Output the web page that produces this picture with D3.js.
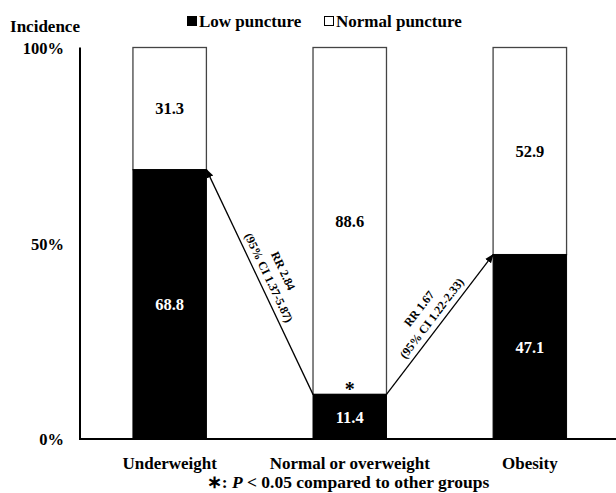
<!DOCTYPE html>
<html><head><meta charset="utf-8">
<script src="https://cdn.jsdelivr.net/npm/d3@7"></script>
<style>body{margin:0;background:#fff}svg{display:block}text{font-family:"Liberation Serif","Times New Roman",serif;font-weight:bold}</style>
</head><body>
<svg id="c" width="616" height="493"></svg>
<script>
const categories = ["Underweight", "Normal or overweight", "Obesity"];
const lowPuncture = [68.8, 11.4, 47.1];
const normalPuncture = [31.3, 88.6, 52.9];
const yTicks = [0, 50, 100];
const yTickLabels = ["0%", "50%", "100%"];
const seriesNames = ["Low puncture", "Normal puncture"];
const rrLabels = [["RR 2.84", "(95% CI 1.37-5.87)"], ["RR 1.67", "(95% CI 1.22-2.33)"]];
const starCategory = "Normal or overweight";
const footnote = " < 0.05 compared to other groups";

const svg = d3.select("#c");
const x = d3.scaleBand().domain(categories).range([80, 619.5]).paddingInner(0.592).paddingOuter(0.294);
const y = d3.scaleLinear().domain([0, 100]).range([439, 47.5]);

// bars
const g = svg.append("g");
categories.forEach((c, i) => {
  const x0 = x(c), w = x.bandwidth();
  g.append("rect").attr("x", x0).attr("y", y(100)).attr("width", w)
    .attr("height", y(lowPuncture[i]) - y(100))
    .attr("fill", "#fff").attr("stroke", "#444").attr("stroke-width", 1.3);
  g.append("rect").attr("x", x0).attr("y", y(lowPuncture[i])).attr("width", w)
    .attr("height", y(0) - y(lowPuncture[i]))
    .attr("fill", "#000").attr("stroke", "#000").attr("stroke-width", 1);
});

// value labels (centered in segments)
categories.forEach((c, i) => {
  const cx = x(c) + x.bandwidth() / 2;
  g.append("text").attr("x", cx).attr("y", y(lowPuncture[i] / 2) + 6)
    .attr("text-anchor", "middle").attr("font-size", 16.5).attr("fill", "#fff")
    .text(lowPuncture[i].toFixed(1));
  g.append("text").attr("x", cx).attr("y", y(lowPuncture[i] + normalPuncture[i] / 2) + 6)
    .attr("text-anchor", "middle").attr("font-size", 16.5).attr("fill", "#000")
    .text(normalPuncture[i].toFixed(1));
});

// star
svg.append("text").attr("x", x(starCategory) + x.bandwidth() / 2)
  .attr("y", y(lowPuncture[1]) + 2).attr("text-anchor", "middle")
  .attr("font-size", 20).text("*");

// axes
const yAxis = d3.axisLeft(y).tickValues(yTicks).tickSize(0).tickFormat((d, i) => yTickLabels[i]);
const ya = svg.append("g").attr("transform", "translate(80,0)").call(yAxis);
ya.select(".domain").attr("stroke", "#000").attr("stroke-width", 2).attr("d", `M0,${y(100)}V${y(0)}`);
ya.selectAll("text").attr("x", -16).attr("dy", "0.35em").attr("font-size", 16.5).attr("fill", "#000")
  .attr("font-family", "Liberation Serif").attr("font-weight", "bold");

const xAxis = d3.axisBottom(x).tickSize(0);
const xa = svg.append("g").attr("transform", `translate(0,${y(0)})`).call(xAxis);
xa.select(".domain").attr("stroke", "#000").attr("stroke-width", 2).attr("d", `M79,0H616`);
xa.selectAll("text").attr("y", 24).attr("dy", "0.35em").attr("font-size", 17).attr("fill", "#000")
  .attr("font-family", "Liberation Serif").attr("font-weight", "bold");

svg.append("text").attr("x", 45).attr("y", 32).attr("text-anchor", "middle").attr("font-size", 17).text("Incidence");

// legend
const leg = svg.append("g");
leg.append("rect").attr("x", 187).attr("y", 16).attr("width", 10).attr("height", 10).attr("fill", "#000");
leg.append("text").attr("x", 199).attr("y", 27).attr("font-size", 17).text(seriesNames[0]);
leg.append("rect").attr("x", 324.5).attr("y", 16.5).attr("width", 9).attr("height", 9).attr("fill", "#fff").attr("stroke", "#000");
leg.append("text").attr("x", 336).attr("y", 27).attr("font-size", 17).text(seriesNames[1]);

// arrows
svg.append("defs").append("marker").attr("id", "ah").attr("viewBox", "0 0 10 10")
  .attr("refX", 9).attr("refY", 5).attr("markerWidth", 7).attr("markerHeight", 7).attr("orient", "auto")
  .append("path").attr("d", "M0,1L10,5L0,9z").attr("fill", "#000");

const arrows = [
  {from: [x(categories[1]), y(lowPuncture[1])], to: [x(categories[0]) + x.bandwidth(), y(lowPuncture[0])], lab: rrLabels[0]},
  {from: [x(categories[1]) + x.bandwidth(), y(lowPuncture[1])], to: [x(categories[2]), y(lowPuncture[2])], lab: rrLabels[1]}
];
arrows.forEach((a) => {
  svg.append("line").attr("x1", a.from[0]).attr("y1", a.from[1]).attr("x2", a.to[0]).attr("y2", a.to[1])
    .attr("stroke", "#000").attr("stroke-width", 1.3).attr("marker-end", "url(#ah)");
  const [p, q] = a.from[0] < a.to[0] ? [a.from, a.to] : [a.to, a.from];
  const ang = Math.atan2(q[1] - p[1], q[0] - p[0]) * 180 / Math.PI;
  const mx = (p[0] + q[0]) / 2, my = (p[1] + q[1]) / 2;
  const tg = svg.append("g").attr("transform", `translate(${mx},${my}) rotate(${ang})`);
  tg.append("text").attr("x", 0).attr("y", -22).attr("text-anchor", "middle").attr("font-size", 12).text(a.lab[0]);
  tg.append("text").attr("x", 0).attr("y", -6).attr("text-anchor", "middle").attr("font-size", 12).text(a.lab[1]);
});

// footnote
const fn = svg.append("text").attr("x", 348).attr("y", 488).attr("text-anchor", "middle").attr("font-size", 17.5);
fn.append("tspan").text("\u2217: ");
fn.append("tspan").attr("font-style", "italic").text("P");
fn.append("tspan").text(footnote);
</script>
</body></html>
